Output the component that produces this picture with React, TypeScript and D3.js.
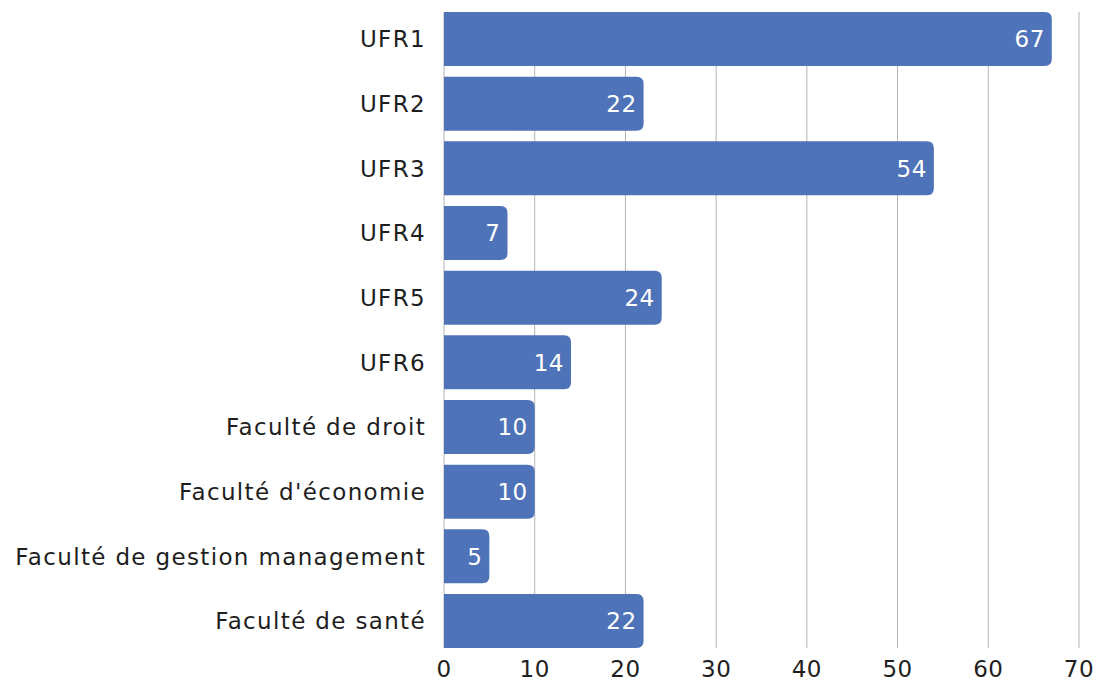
import React from "react";
import * as d3 from "d3";

const categories = [
  "UFR1",
  "UFR2",
  "UFR3",
  "UFR4",
  "UFR5",
  "UFR6",
  "Faculté de droit",
  "Faculté d'économie",
  "Faculté de gestion management",
  "Faculté de santé",
];
const values = [67, 22, 54, 7, 24, 14, 10, 10, 5, 22];
const xTicks = [0, 10, 20, 30, 40, 50, 60, 70];

const width = 1097;
const height = 682;
const font = "'DejaVu Sans', sans-serif";

// path for a bar with rounded right corners only
const barPath = (x0: number, y0: number, w: number, h: number, r: number) => {
  const rr = Math.min(r, w / 2, h / 2);
  return `M${x0},${y0}H${x0 + w - rr}Q${x0 + w},${y0} ${x0 + w},${y0 + rr}V${y0 + h - rr}Q${x0 + w},${y0 + h} ${x0 + w - rr},${y0 + h}H${x0}Z`;
};

const App = () => {
  const x = d3.scaleLinear().domain([0, 70]).range([444, 1079]);
  const y = d3.scaleBand<string>().domain(categories).range([12, 648]).paddingInner(0.165).paddingOuter(0);

  return (
    <svg width={width} height={height} style={{ position: "absolute", left: 0, top: 0 }}>
      <rect width={width} height={height} fill="#fff" />
      <g>
        {xTicks.map(t => (
          <line key={t} x1={x(t)} x2={x(t)} y1={12} y2={648} stroke="#b3b3b3" strokeWidth={1} />
        ))}
      </g>
      <g>
        {values.map((v, i) => {
          const c = categories[i];
          const y0 = y(c)!;
          return (
            <g key={c}>
              <path d={barPath(x(0), y0, x(v) - x(0), y.bandwidth(), 7)} fill="#4e73b8" />
              <text x={x(v) - 7} y={y0 + y.bandwidth() / 2} dy="0.36em" textAnchor="end" fill="#fff" fontFamily={font} fontSize={23} letterSpacing={0.5}>
                {v}
              </text>
              <text x={426} y={y0 + y.bandwidth() / 2} dy="0.36em" textAnchor="end" fill="#1e1e1e" fontFamily={font} fontSize={23} letterSpacing={1.35}>
                {c}
              </text>
            </g>
          );
        })}
      </g>
      <g>
        {xTicks.map(t => (
          <text key={t} x={x(t)} y={669} dy="0.36em" textAnchor="middle" fill="#1e1e1e" fontFamily={font} fontSize={23} letterSpacing={0.5}>
            {t}
          </text>
        ))}
      </g>
    </svg>
  );
};

export default App;
